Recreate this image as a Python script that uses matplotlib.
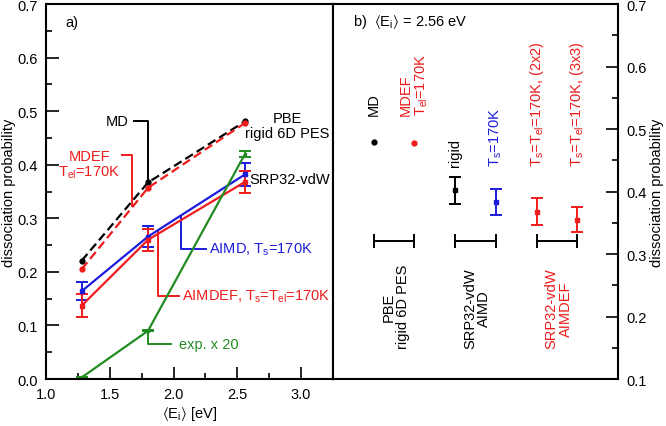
import matplotlib
matplotlib.use("Agg")
import matplotlib.pyplot as plt
from matplotlib.ticker import MultipleLocator

plt.rcParams["font.family"] = ["Liberation Sans", "DejaVu Sans"]
plt.rcParams["mathtext.fontset"] = "custom"
plt.rcParams["mathtext.rm"] = "Liberation Sans"
plt.rcParams["mathtext.it"] = "Liberation Sans:italic"
plt.rcParams["mathtext.fallback"] = "stixsans"
plt.rcParams["font.size"] = 10.5

RED = "#ee1c1c"
BLUE = "#1c1cdd"
GREEN = "#228b22"

# panel a) data
energy = [1.28, 1.80, 2.56]
md = [0.221, 0.367, 0.481]
mdef = [0.205, 0.357, 0.478]
aimd = [0.164, 0.266, 0.382]
aimd_err = [0.017, 0.020, 0.021]
aimdef = [0.137, 0.260, 0.368]
aimdef_err = [0.021, 0.021, 0.021]
exp20 = [0.003, 0.090, 0.420]
exp20_err = [0.0, 0.001, 0.006]

# panel b) data, <Ei> = 2.56 eV
case_pos = [1, 2, 3, 4, 5, 6]
case_prob = [0.480, 0.478, 0.402, 0.383, 0.368, 0.355]
case_err = [0.0, 0.0, 0.022, 0.021, 0.021, 0.020]
case_color = ["black", RED, "black", BLUE, RED, RED]
case_labels = ["MD", "MDEF\nT$_\\mathrm{el}$=170K", "rigid", "T$_\\mathrm{s}$=170K",
               "T$_\\mathrm{s}$=T$_\\mathrm{el}$=170K, (2x2)",
               "T$_\\mathrm{s}$=T$_\\mathrm{el}$=170K, (3x3)"]
group_labels = ["PBE\nrigid 6D PES", "SRP32-vdW\nAIMD", "SRP32-vdW\nAIMDEF"]
group_color = ["black", "black", RED]

fig = plt.figure(figsize=(6.66, 4.27), dpi=100)
ax = fig.add_axes([0.069, 0.110, 0.431, 0.878])
bx = fig.add_axes([0.500, 0.110, 0.428, 0.878])

for a in (ax, bx):
    for s in a.spines.values():
        s.set_linewidth(1.5)

# ---- panel a
lw = 1.6
ax.plot(energy, md, color="black", lw=lw, dashes=(4, 2), marker="o", ms=3.5)
ax.plot(energy, mdef, color=RED, lw=lw, dashes=(4, 2), marker="o", ms=3.5)
ax.errorbar(energy, aimd, yerr=aimd_err, color=BLUE, lw=lw, marker="s", ms=3.5,
            capsize=4.5, capthick=1.4, elinewidth=1.4)
ax.errorbar(energy, aimdef, yerr=aimdef_err, color=RED, lw=lw, marker="s", ms=3.5,
            capsize=4.5, capthick=1.4, elinewidth=1.4)
ax.errorbar(energy, exp20, yerr=exp20_err, color=GREEN, lw=lw, marker="s", ms=2,
            capsize=4.5, capthick=1.4, elinewidth=1.4)

ax.set_xlim(1.0, 3.25)
ax.set_ylim(0.0, 0.7)
ax.xaxis.set_major_locator(MultipleLocator(0.5))
ax.xaxis.set_minor_locator(MultipleLocator(0.25))
ax.yaxis.set_major_locator(MultipleLocator(0.1))
ax.yaxis.set_minor_locator(MultipleLocator(0.05))
ax.tick_params(which="both", direction="in", width=1.2, pad=6)
ax.tick_params(which="major", length=9)
ax.tick_params(which="minor", length=4.5)
ax.set_xlabel(r"$\langle$E$_\mathrm{i}\rangle$ [eV]", labelpad=2)
ax.set_ylabel("dissociation probability", labelpad=1)

blw = 1.4
ax.text(1.15, 0.667, "a)", ha="left", va="center")
ax.text(1.65, 0.481, "MD", ha="right", va="center")
ax.plot([1.69, 1.8, 1.8], [0.481, 0.481, 0.367], color="black", lw=blw)
ax.text(2.89, 0.473, "PBE\nrigid 6D PES", ha="center", va="center", linespacing=1.05)
ax.text(1.34, 0.40, "MDEF\nT$_\\mathrm{el}$=170K", ha="center", va="center",
        color=RED, linespacing=1.05)
ax.plot([1.60, 1.677, 1.677], [0.418, 0.418, 0.323], color=RED, lw=blw)
ax.text(2.595, 0.373, "SRP32-vdW", ha="left", va="center")
ax.text(2.28, 0.243, "AIMD, T$_\\mathrm{s}$=170K", ha="left", va="center", color=BLUE)
ax.plot([2.06, 2.06, 2.255], [0.305, 0.243, 0.243], color=BLUE, lw=blw)
ax.text(2.067, 0.155, "AIMDEF, T$_\\mathrm{s}$=T$_\\mathrm{el}$=170K", ha="left",
        va="center", color=RED)
ax.plot([1.876, 1.876, 2.045], [0.274, 0.155, 0.155], color=RED, lw=blw)
ax.text(2.045, 0.065, "exp. x 20", ha="left", va="center", color=GREEN)
ax.plot([1.8, 1.8, 1.98], [0.09, 0.065, 0.065], color=GREEN, lw=blw)

# ---- panel b
for x, p, e, c in zip(case_pos, case_prob, case_err, case_color):
    if e > 0:
        bx.errorbar(x, p, yerr=e, color=c, marker="s", ms=3.5, lw=lw,
                    capsize=4.5, capthick=1.4, elinewidth=1.4)
    else:
        bx.plot(x, p, color=c, marker="o", ms=3.5)

for x, lab, c in zip(case_pos, case_labels, case_color):
    y0 = 0.522 if x <= 2 else 0.441
    bx.text(x, y0, lab, rotation=90, ha="center", va="bottom", color=c,
            multialignment="left", linespacing=1.0)

for i, (lab, c) in enumerate(zip(group_labels, group_color)):
    xc = case_pos[2 * i] + 0.5
    bx.errorbar(xc, 0.321, xerr=0.5, color="black", lw=1.4, capsize=5, capthick=1.4)
    bx.text(xc + 0.04, 0.149, lab, rotation=90, ha="center", va="bottom", color=c,
            multialignment="center", linespacing=1.0)

bx.text(0.5, 0.673, r"b)  $\langle$E$_\mathrm{i}\rangle$ = 2.56 eV", ha="left", va="center")

bx.set_xlim(0, 7)
bx.set_ylim(0.1, 0.7)
bx.set_xticks([])
bx.yaxis.tick_right()
bx.yaxis.set_label_position("right")
bx.yaxis.set_major_locator(MultipleLocator(0.1))
bx.yaxis.set_minor_locator(MultipleLocator(0.05))
bx.tick_params(which="both", direction="in", width=1.2, pad=6)
bx.tick_params(which="major", length=9)
bx.tick_params(which="minor", length=4.5)
bx.set_ylabel("dissociation probability", labelpad=2)

fig.savefig("out.png", dpi=100)
